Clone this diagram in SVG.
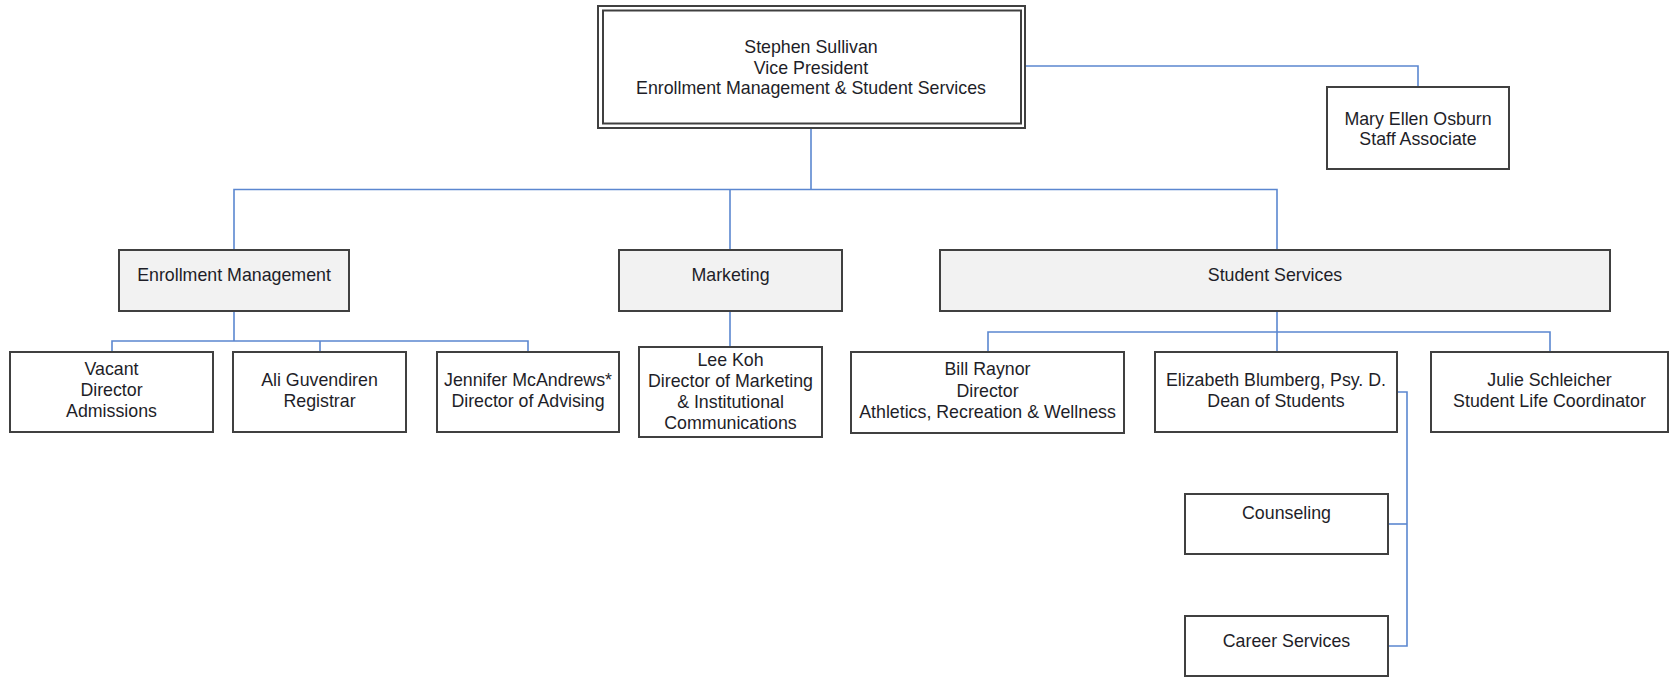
<svg xmlns="http://www.w3.org/2000/svg" width="1669" height="677" viewBox="0 0 1669 677">
<style>
.box{fill:#ffffff;stroke:#404040;stroke-width:2}
.grey{fill:#f2f2f2;stroke:#404040;stroke-width:2}
.dbl{fill:none;stroke:#404040;stroke-width:2}
text{font-family:"Liberation Sans",Arial,sans-serif;font-size:17.8px;fill:#1e1e28;text-anchor:middle}
.conn{fill:none;stroke:#5b87d0;stroke-width:1.6}
</style>
<rect width="1669" height="677" fill="#ffffff"/>
<g id="connectors">
<polyline class="conn" points="811,129 811,189.5"/>
<polyline class="conn" points="234,250 234,189.5 1277,189.5 1277,250"/>
<polyline class="conn" points="730,189.5 730,250"/>
<polyline class="conn" points="1025,66 1418,66 1418,87"/>
<polyline class="conn" points="234,311 234,341"/>
<polyline class="conn" points="112,352 112,341 528,341 528,352"/>
<polyline class="conn" points="320,341 320,352"/>
<polyline class="conn" points="730,311 730,347"/>
<polyline class="conn" points="1277,311 1277,332"/>
<polyline class="conn" points="988,352 988,332 1550,332 1550,352"/>
<polyline class="conn" points="1277,332 1277,352"/>
<polyline class="conn" points="1397,392 1407,392 1407,646 1388,646"/>
<polyline class="conn" points="1407,524 1388,524"/>
</g>
<g id="vp">
<rect class="dbl" x="598" y="6" width="427" height="122"/>
<rect class="dbl" x="603" y="10.5" width="418" height="113"/>
<text x="811" y="53">Stephen Sullivan</text>
<text x="811" y="73.5">Vice President</text>
<text x="811" y="94">Enrollment Management &amp; Student Services</text>
</g>
<g id="staff">
<rect class="box" x="1327" y="87" width="182" height="82"/>
<text x="1418" y="124.5">Mary Ellen Osburn</text>
<text x="1418" y="145">Staff Associate</text>
</g>
<g id="enrollment">
<rect class="grey" x="119" y="250" width="230" height="61"/>
<text x="234" y="281">Enrollment Management</text>
</g>
<g id="marketing">
<rect class="grey" x="619" y="250" width="223" height="61"/>
<text x="730.5" y="281">Marketing</text>
</g>
<g id="studentservices">
<rect class="grey" x="940" y="250" width="670" height="61"/>
<text x="1275" y="281">Student Services</text>
</g>
<g id="vacant">
<rect class="box" x="10" y="352" width="203" height="80"/>
<text x="111.5" y="375">Vacant</text>
<text x="111.5" y="396">Director</text>
<text x="111.5" y="417">Admissions</text>
</g>
<g id="registrar">
<rect class="box" x="233" y="352" width="173" height="80"/>
<text x="319.5" y="386">Ali Guvendiren</text>
<text x="319.5" y="407">Registrar</text>
</g>
<g id="advising">
<rect class="box" x="437" y="352" width="182" height="80"/>
<text x="528" y="386">Jennifer McAndrews*</text>
<text x="528" y="407">Director of Advising</text>
</g>
<g id="leekoh">
<rect class="box" x="639" y="347" width="183" height="90"/>
<text x="730.5" y="365.5">Lee Koh</text>
<text x="730.5" y="386.5">Director of Marketing</text>
<text x="730.5" y="408">&amp; Institutional</text>
<text x="730.5" y="429">Communications</text>
</g>
<g id="athletics">
<rect class="box" x="851" y="352" width="273" height="81"/>
<text x="987.5" y="375">Bill Raynor</text>
<text x="987.5" y="396.5">Director</text>
<text x="987.5" y="418">Athletics, Recreation &amp; Wellness</text>
</g>
<g id="dean">
<rect class="box" x="1155" y="352" width="242" height="80"/>
<text x="1276" y="386">Elizabeth Blumberg, Psy. D.</text>
<text x="1276" y="407">Dean of Students</text>
</g>
<g id="studentlife">
<rect class="box" x="1431" y="352" width="237" height="80"/>
<text x="1549.5" y="386">Julie Schleicher</text>
<text x="1549.5" y="407">Student Life Coordinator</text>
</g>
<g id="counseling">
<rect class="box" x="1185" y="494" width="203" height="60"/>
<text x="1286.5" y="519">Counseling</text>
</g>
<g id="career">
<rect class="box" x="1185" y="616" width="203" height="60"/>
<text x="1286.5" y="647">Career Services</text>
</g>
</svg>
